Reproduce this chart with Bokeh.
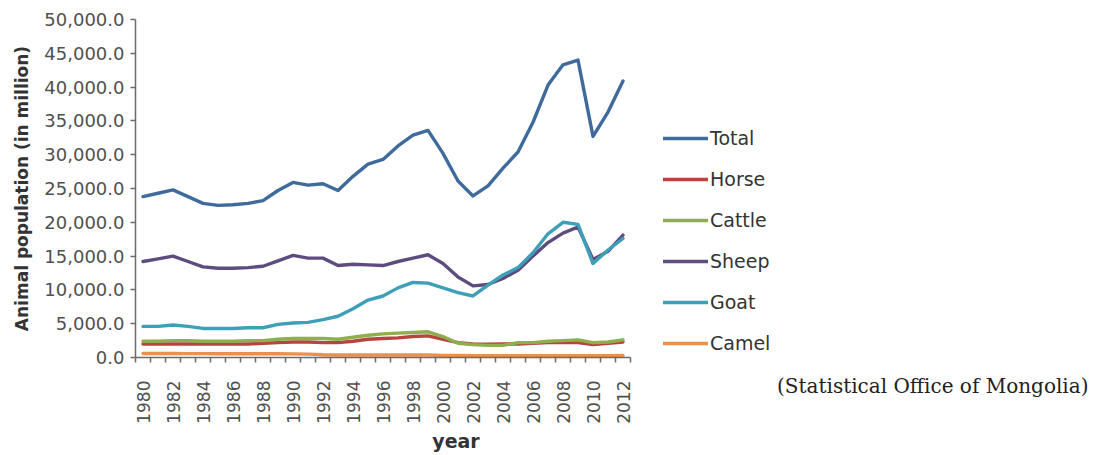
import math
from bokeh.plotting import figure
from bokeh.layouts import row
from bokeh.models import (ColumnDataSource, Range1d, FixedTicker, NumeralTickFormatter,
                          Legend, LegendItem, Div)
from bokeh.embed import file_html
from bokeh.resources import INLINE

# Mongolian livestock by year (thousand head)
years = list(range(1980, 2013))
total = [23800, 24300, 24800, 23800, 22800, 22500, 22600, 22800, 23200, 24700,
         25900, 25500, 25700, 24700, 26800, 28600, 29300, 31300, 32900, 33600,
         30200, 26100, 23900, 25400, 28000, 30400, 34800, 40300, 43300, 44000,
         32700, 36300, 40900]
horse = [2000, 2000, 2000, 2000, 2000, 2000, 2000, 2000, 2100, 2200,
         2300, 2300, 2200, 2200, 2400, 2700, 2800, 2900, 3100, 3200,
         2700, 2200, 2000, 1970, 2000, 2000, 2100, 2200, 2200, 2200,
         1900, 2100, 2300]
cattle = [2400, 2400, 2500, 2500, 2400, 2400, 2400, 2500, 2500, 2700,
          2800, 2800, 2800, 2700, 3000, 3300, 3500, 3600, 3700, 3800,
          3100, 2100, 1900, 1800, 1800, 2200, 2200, 2400, 2500, 2600,
          2200, 2300, 2600]
sheep = [14200, 14600, 15000, 14200, 13400, 13200, 13200, 13300, 13500, 14300,
         15100, 14700, 14700, 13600, 13800, 13700, 13600, 14200, 14700, 15200,
         13900, 11900, 10600, 10800, 11700, 12900, 15000, 17000, 18400, 19300,
         14500, 15700, 18100]
goat = [4600, 4600, 4800, 4600, 4300, 4300, 4300, 4400, 4400, 4900,
        5100, 5200, 5600, 6100, 7200, 8500, 9100, 10300, 11100, 11000,
        10300, 9600, 9100, 10700, 12200, 13300, 15500, 18300, 20000, 19700,
        13900, 15900, 17600]
camel = [590, 600, 590, 580, 570, 560, 560, 560, 560, 560,
         540, 500, 400, 370, 370, 370, 360, 360, 360, 360,
         320, 290, 250, 260, 260, 250, 250, 260, 270, 280,
         270, 280, 310]

series_names = ["Total", "Horse", "Cattle", "Sheep", "Goat", "Camel"]
series_values = [total, horse, cattle, sheep, goat, camel]
series_colors = ["#3E6B9C", "#B8443F", "#8DAF4E", "#5E4C7E", "#3E9FB8", "#EE8F4A"]

y_ticks = list(range(0, 50001, 5000))
x_label_years = list(range(1980, 2013, 2))
source_text = "(Statistical Office of Mongolia)"

FONT = "DejaVu Sans"
TXT = "#333333"
TICK_TXT = "#505050"
AX = "#6b6b6b"

X_START, X_END = years[0] - 0.5, years[-1] + 0.5
PLOT_W = 776
FRAME_LEFT = 135
# the frame keeps 15 px per year and runs on past the axis to hold the legend
px_per_year = 15.0
x_range_end = X_START + (PLOT_W - FRAME_LEFT) / px_per_year

p = figure(width=PLOT_W, height=455, output_backend="svg", toolbar_location=None,
           x_range=Range1d(X_START, x_range_end), y_range=Range1d(0, 50000),
           min_border_left=FRAME_LEFT, min_border_right=0, min_border_top=19,
           min_border_bottom=98)
p.outline_line_color = None
p.xgrid.visible = False
p.ygrid.visible = False
p.background_fill_color = "white"
p.border_fill_color = "white"

src = ColumnDataSource(dict(year=years, **{n: v for n, v in zip(series_names, series_values)}))
renderers = []
for name, col in zip(series_names, series_colors):
    r = p.line("year", name, source=src, line_color=col, line_width=3.4,
               line_join="round", line_cap="round")
    renderers.append(r)

# y axis
ya = p.yaxis[0]
ya.ticker = FixedTicker(ticks=y_ticks)
ya.formatter = NumeralTickFormatter(format="0,0.0")
ya.axis_line_color = AX
ya.axis_line_width = 1.5
ya.major_tick_line_color = AX
ya.major_tick_line_width = 1.5
ya.major_tick_out = 5
ya.major_tick_in = 0
ya.minor_tick_line_color = None
ya.major_label_text_font = FONT
ya.major_label_text_font_size = "18px"
ya.major_label_text_color = TICK_TXT
ya.major_label_standoff = 6
ya.axis_label = "Animal population (in million)"
ya.axis_label_text_font = FONT
ya.axis_label_text_font_size = "17px"
ya.axis_label_text_font_style = "bold"
ya.axis_label_text_color = TXT
ya.axis_label_standoff = 9

# x axis: labels every second year, tick marks between categories
xa = p.xaxis[0]
xa.bounds = (X_START, X_END)
xa.ticker = FixedTicker(ticks=x_label_years,
                        minor_ticks=[y - 0.5 for y in years] + [X_END])
xa.axis_line_color = AX
xa.axis_line_width = 1.5
xa.major_tick_out = 0
xa.major_tick_in = 0
xa.minor_tick_line_color = AX
xa.minor_tick_line_width = 1.5
xa.minor_tick_out = 5
xa.minor_tick_in = 0
xa.major_label_orientation = math.pi / 2
xa.major_label_text_font = FONT
xa.major_label_text_font_size = "17px"
xa.major_label_text_color = TICK_TXT
xa.major_label_standoff = 18
xa.axis_label = "year"
xa.axis_label_text_font = FONT
xa.axis_label_text_font_size = "19px"
xa.axis_label_text_font_style = "bold"
xa.axis_label_text_color = TXT
xa.axis_label_standoff = 3

legend = Legend(items=[LegendItem(label=n, renderers=[r]) for n, r in zip(series_names, renderers)],
                location=(528, 3), orientation="vertical",
                glyph_width=45, glyph_height=20, label_height=20, spacing=19,
                label_standoff=2, padding=0, margin=0,
                border_line_color=None, background_fill_alpha=0,
                label_text_font=FONT, label_text_font_size="19px", label_text_color=TXT)
p.add_layout(legend, "center")

note = Div(text=source_text, width=1102 - PLOT_W,
           styles={"padding-top": "367px", "margin-left": "1px",
                   "font-family": "DejaVu Serif", "font-size": "20px",
                   "color": "#222222", "white-space": "nowrap"})

layout = row(p, note)
open("out.html", "w").write(file_html(layout, INLINE))
